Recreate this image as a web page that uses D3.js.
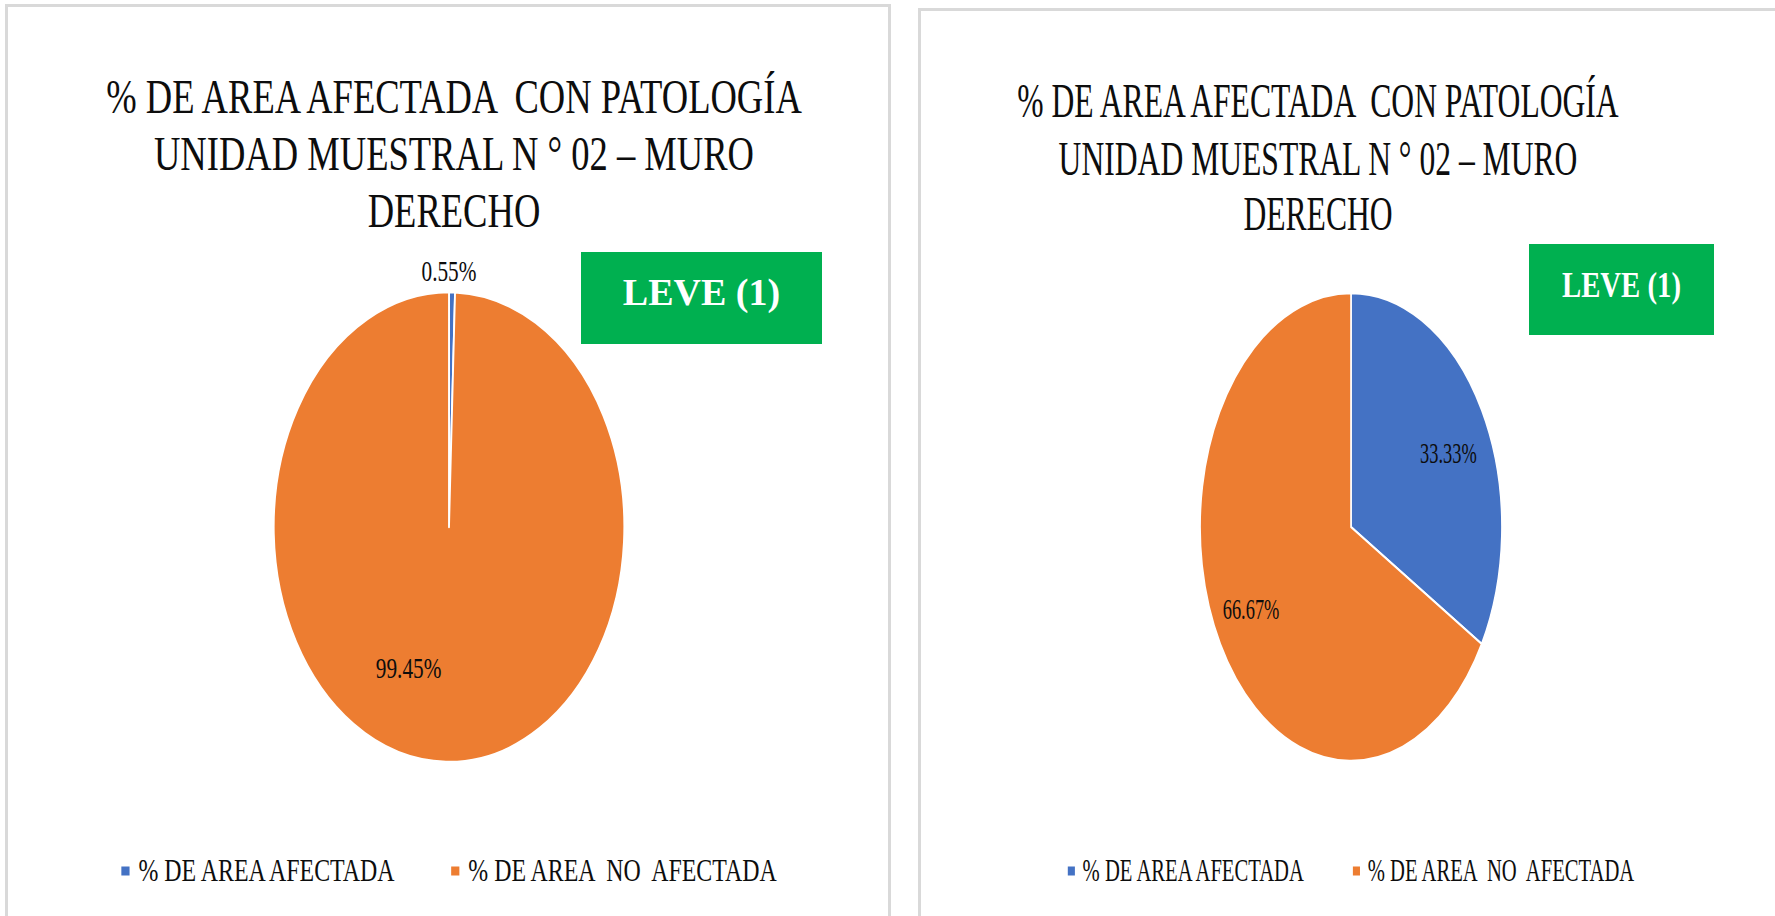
<!DOCTYPE html>
<html><head><meta charset="utf-8">
<script src="https://cdn.jsdelivr.net/npm/d3@7"></script>
<style>
html,body{margin:0;padding:0;background:#fff;}
svg{display:block;}
text{white-space:pre;}
</style>
</head><body>
<svg id="chart" width="1775" height="916" font-family="'Liberation Serif', 'Times New Roman', Times, 'DejaVu Serif', serif"></svg>
<script>
// ---- data ----
const categories = ["% DE AREA AFECTADA", "% DE AREA  NO  AFECTADA"];
const valuesChart1 = [0.55, 99.45];
const valuesChart2 = [33.33, 66.67];
const titleLines = ["% DE AREA AFECTADA  CON PATOLOGÍA", "UNIDAD MUESTRAL N ° 02 – MURO", "DERECHO"];
const badgeLabel = "LEVE (1)";
const colors = ["#4472C4", "#ED7D31"];

// ---- layout (positions / styles) ----
const FONT = "'Liberation Serif', 'Times New Roman', Times, serif";
const layouts = [
  {values: valuesChart1, border:{x:6.5, y:5.5, x2:889.5}, sx:0.746, cx:449, cy:527, r:235,
   titleX:454, titleY:[113,170,227], titleSize:49,
   badge:{x:581, y:252, w:241, h:92, sx:1.0, size:38},
   labels:[{r:1.09, shift:-1},{r:0.643, shift:20}], legendY:871},
  {values: valuesChart2, border:{x:919.5, y:9.5, x2:1800}, sx:0.645, cx:1351, cy:527, r:234,
   titleX:1318, titleY:[117,175,230], titleSize:49,
   badge:{x:1529, y:244, w:185, h:91, sx:0.8, size:36},
   labels:[{r:0.718, shift:4},{r:0.75, shift:2}], legendY:871}
];

const svg = d3.select("#chart");
const pie = d3.pie().sort(null).value(d => d);

layouts.forEach(L => {
  const g = svg.append("g").attr("font-family", FONT);
  // panel border
  g.append("path")
    .attr("d", `M${L.border.x},930 L${L.border.x},${L.border.y} L${L.border.x2},${L.border.y} L${L.border.x2},930`)
    .attr("fill", "none").attr("stroke", "#D9D9D9").attr("stroke-width", 3);

  // title
  titleLines.forEach((t, i) => {
    g.append("text")
      .attr("transform", `translate(${L.titleX},${L.titleY[i]}) scale(${L.sx},1)`)
      .attr("text-anchor", "middle")
      .attr("font-family", FONT)
      .attr("font-size", L.titleSize)
      .attr("fill", "#0d0d0d")
      .text(t);
  });

  // pie
  const arcs = pie(L.values);
  const arc = d3.arc().innerRadius(0).outerRadius(L.r);
  const pg = g.append("g").attr("transform", `translate(${L.cx},${L.cy}) scale(${L.sx},1)`);
  pg.selectAll("path").data(arcs).join("path")
    .attr("d", arc)
    .attr("fill", (d, i) => colors[i])
    .attr("stroke", "#fff").attr("stroke-width", 2.5).attr("stroke-linejoin", "round");

  // data labels
  arcs.forEach((d, i) => {
    const lab = L.labels[i];
    const a = (d.startAngle + d.endAngle) / 2 + lab.shift * Math.PI / 180;
    const rr = L.r * lab.r;
    const x = L.cx + rr * Math.sin(a) * L.sx;
    const y = L.cy - rr * Math.cos(a);
    g.append("text")
      .attr("transform", `translate(${x},${y}) scale(${L.sx},1)`)
      .attr("text-anchor", "middle").attr("dy", "0.35em")
      .attr("font-family", FONT)
      .attr("font-size", 28.5).attr("fill", "#0d0d0d")
      .text(L.values[i].toFixed(2) + "%");
  });

  // badge
  const b = L.badge;
  g.append("rect").attr("x", b.x).attr("y", b.y).attr("width", b.w).attr("height", b.h)
    .attr("fill", "#00B050");
  g.append("text")
    .attr("transform", `translate(${b.x + b.w/2},${b.y + b.h*0.58}) scale(${b.sx},1)`)
    .attr("text-anchor", "middle").attr("font-weight", "bold")
    .attr("font-family", FONT)
    .attr("font-size", b.size).attr("fill", "#fff")
    .text(badgeLabel);

  // legend
  const lg = g.append("g").attr("transform", `translate(${L.cx},${L.legendY}) scale(${L.sx},1)`);
  const sq = 11, gap = 12, itemGap = 76;
  const items = categories.map((c, i) => {
    const it = lg.append("g");
    it.append("rect").attr("x", 0).attr("y", -4.5).attr("width", sq).attr("height", 9).attr("fill", colors[i]);
    const tx = it.append("text").attr("x", sq + gap).attr("y", 9.5)
      .attr("font-family", FONT)
      .attr("font-size", 32).attr("fill", "#0d0d0d").text(c);
    return {it, w: sq + gap + tx.node().getComputedTextLength()};
  });
  const total = d3.sum(items, d => d.w) + itemGap * (items.length - 1);
  let cur = -total / 2;
  items.forEach(d => { d.it.attr("transform", `translate(${cur},0)`); cur += d.w + itemGap; });
});
</script>
</body></html>
